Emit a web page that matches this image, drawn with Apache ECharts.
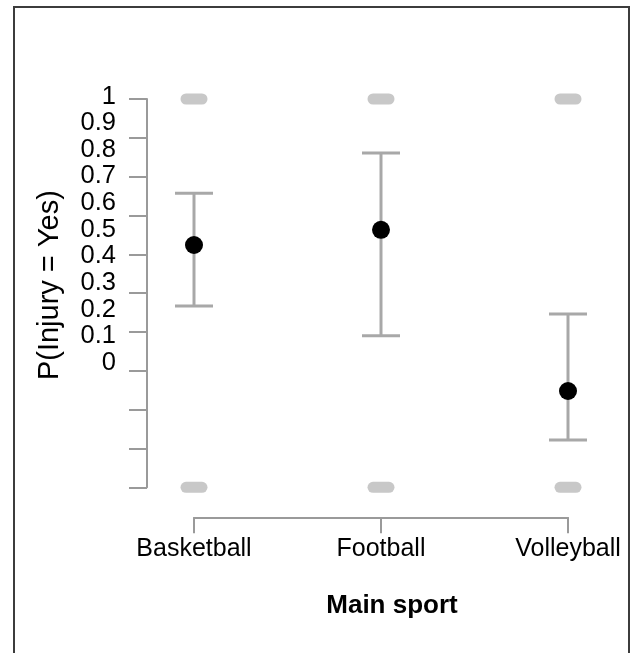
<!DOCTYPE html>
<html>
<head>
<meta charset="utf-8">
<script src="https://cdn.jsdelivr.net/npm/echarts@6/dist/echarts.min.js"></script>
<style>
  html, body { margin: 0; padding: 0; background: #fff; }
  #chart { width: 631px; height: 653px; }
</style>
</head>
<body>
<div id="chart"></div>
<script>
// Predicted probability of injury by main sport, with 95% intervals
const categories = ['Basketball', 'Football', 'Volleyball'];
const estimate = [0.624, 0.663, 0.248];
const lower = [0.467, 0.390, 0.122];
const upper = [0.757, 0.861, 0.446];
// observed outcomes (0 = No, 1 = Yes) shown behind the estimates
const observedLevels = [0, 1];
// labels printed along the vertical axis
const tickLabels = ['0', '0.1', '0.2', '0.3', '0.4', '0.5', '0.6', '0.7', '0.8', '0.9', '1'];

const FONT = '"Liberation Sans", Arial, Helvetica, sans-serif';
const AXIS_GREY = '#9a9a9a';
const BAR_GREY = '#a8a8a8';
// capsule-shaped marker for the observed outcomes
const PILL = 'path://M5.5,0 H21.5 A5.5,5.5 0 0 1 21.5,11 H5.5 A5.5,5.5 0 0 1 5.5,0 Z';

const chart = echarts.init(document.getElementById('chart'));

const observed = [];
categories.forEach(c => observedLevels.forEach(v => observed.push([c, v])));

const option = {
  backgroundColor: '#fff',
  animation: false,
  graphic: [{
    type: 'rect',
    shape: { x: 14, y: 7, width: 615, height: 660 },
    style: { fill: 'none', stroke: '#3c3c3c', lineWidth: 2 },
    silent: true
  }],
  grid: [
    { left: 194, right: 63, top: 99, height: 388.3 },
    { left: 194, right: 63, top: 96.5, height: 266.5 }
  ],
  xAxis: [{
    type: 'category',
    gridIndex: 0,
    data: categories,
    boundaryGap: false,
    offset: 30,
    axisLine: { onZero: false, lineStyle: { color: AXIS_GREY, width: 2 } },
    axisTick: { length: 16, lineStyle: { color: AXIS_GREY, width: 2 } },
    axisLabel: { color: '#000', fontSize: 25, fontFamily: FONT, margin: 19 },
    name: 'Main sport',
    nameLocation: 'middle',
    nameGap: 76,
    nameTextStyle: { color: '#000', fontSize: 26, fontWeight: 'bold', fontFamily: FONT, padding: [0, 0, 0, 22] },
    splitLine: { show: false }
  }, {
    type: 'category',
    gridIndex: 1,
    data: categories,
    boundaryGap: false,
    show: false
  }],
  yAxis: [{
    type: 'value',
    gridIndex: 0,
    min: 0,
    max: 1,
    interval: 0.1,
    offset: 47,
    axisLine: { show: true, onZero: false, lineStyle: { color: AXIS_GREY, width: 2 } },
    axisTick: { show: true, length: 18, lineStyle: { color: AXIS_GREY, width: 2 } },
    axisLabel: { show: false },
    splitLine: { show: false },
    name: 'P(Injury = Yes)',
    nameLocation: 'middle',
    nameGap: 83,
    nameTextStyle: { color: '#000', fontSize: 29, fontFamily: FONT, padding: [0, 0, 0, 16] }
  }, {
    type: 'value',
    gridIndex: 1,
    min: 0,
    max: 1,
    interval: 0.1,
    offset: 47,
    axisLine: { show: false },
    axisTick: { show: false },
    splitLine: { show: false },
    axisLabel: {
      color: '#000', fontSize: 25.5, fontFamily: FONT, margin: 31,
      formatter: v => tickLabels[Math.round(v * 10)]
    }
  }],
  series: [{
    type: 'scatter',
    xAxisIndex: 0, yAxisIndex: 0,
    data: observed,
    symbol: PILL,
    symbolSize: [27, 11],
    itemStyle: { color: '#c8c8c8', opacity: 1 },
    z: 1
  }, {
    type: 'custom',
    xAxisIndex: 0, yAxisIndex: 0,
    data: categories.map((c, i) => [i, lower[i], upper[i]]),
    renderItem: (params, api) => {
      const x = api.coord([api.value(0), 0])[0];
      const lo = api.coord([api.value(0), api.value(1)])[1];
      const hi = api.coord([api.value(0), api.value(2)])[1];
      const hw = 19;
      const style = { stroke: BAR_GREY, lineWidth: 3 };
      return {
        type: 'group',
        children: [
          { type: 'line', shape: { x1: x, y1: lo, x2: x, y2: hi }, style },
          { type: 'line', shape: { x1: x - hw, y1: hi, x2: x + hw, y2: hi }, style },
          { type: 'line', shape: { x1: x - hw, y1: lo, x2: x + hw, y2: lo }, style }
        ]
      };
    },
    z: 2
  }, {
    type: 'scatter',
    xAxisIndex: 0, yAxisIndex: 0,
    data: categories.map((c, i) => [c, estimate[i]]),
    symbol: 'circle',
    symbolSize: 18,
    itemStyle: { color: '#000', opacity: 1 },
    z: 3
  }]
};

chart.setOption(option);
</script>
</body>
</html>
